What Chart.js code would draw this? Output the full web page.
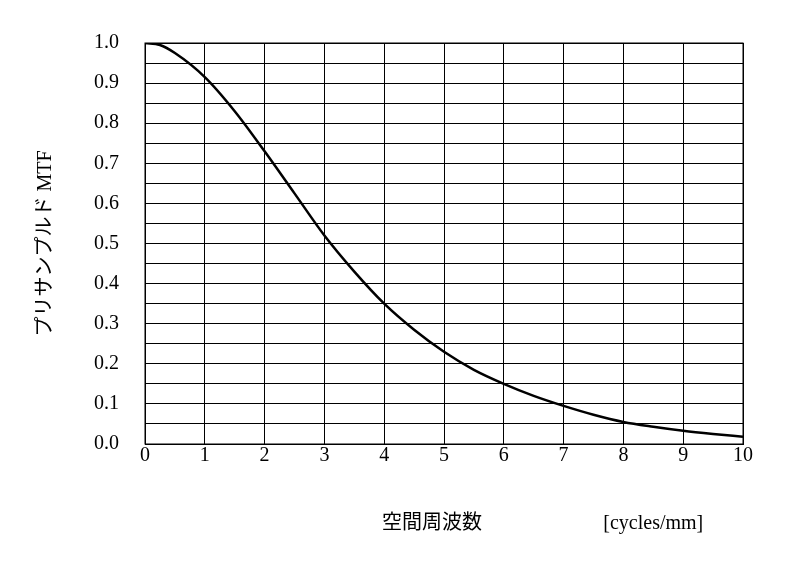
<!DOCTYPE html>
<html><head><meta charset="utf-8">
<script src="https://cdn.jsdelivr.net/npm/chart.js@4"></script>
<style>html,body{margin:0;padding:0;background:#fff}#c{width:806px;height:578px}</style>
</head><body><div id="c"><canvas id="cv" width="806" height="578"></canvas></div>
<script>
const freq = [0,0.25,0.5,1,1.5,2,2.5,3,3.5,4,4.5,5,5.5,6,6.5,7,7.5,8,8.5,9,9.5,10];
const mtf = [1.0,0.995,0.975,0.915,0.83,0.73,0.625,0.52,0.43,0.35,0.285,0.23,0.185,0.15,0.12,0.095,0.073,0.055,0.043,0.033,0.025,0.018];
const xTitle = '空間周波数';
const xUnit = '[cycles/mm]';
const yTitle = 'プリサンプルド MTF';
const serif = '"Liberation Serif","Noto Sans CJK JP",serif';
const titlePlugin = {
  id:'xt',
  afterDraw(ch){
    const c=ch.ctx, x=ch.scales.x;
    c.save(); c.fillStyle='#000'; c.textBaseline='middle'; c.textAlign='center';
    c.font='20px '+serif;
    c.fillText(xTitle, x.getPixelForValue(4.8), 524);
    c.fillText(xUnit, x.getPixelForValue(8.5), 524);
    c.restore();
  }
};
new Chart(document.getElementById('cv'),{
  type:'line',
  data:{datasets:[{data:freq.map((f,i)=>({x:f,y:mtf[i]})),borderColor:'#000',borderWidth:2.5,pointRadius:0,cubicInterpolationMode:'monotone',fill:false}]},
  options:{
    responsive:false,animation:false,
    layout:{padding:{left:0,right:63,top:43,bottom:0}},
    plugins:{legend:{display:false},tooltip:{enabled:false}},
    scales:{
      x:{type:'linear',min:0,max:10,
        ticks:{stepSize:1,color:'#000',font:{family:serif,size:20},padding:0},
        grid:{color:'#000',lineWidth:1,drawTicks:false},
        border:{color:'#000',width:1},
        afterFit(s){s.height=134;}},
      y:{type:'linear',min:0,max:1,
        ticks:{stepSize:0.05,autoSkip:false,color:'#000',font:{family:serif,size:20},padding:26,
          callback:(v)=>{const r=Math.round(v*100);return r%10===0?(r/100).toFixed(1):'';}},
        grid:{color:'#000',lineWidth:1,drawTicks:false},
        border:{color:'#000',width:1},
        title:{display:true,text:yTitle,color:'#000',font:{family:serif,size:20},padding:{top:34,bottom:0}},
        afterFit(s){s.width=145;}}
    }
  },
  plugins:[titlePlugin,{id:'rb',afterDraw(ch){const a=ch.chartArea,c=ch.ctx;c.save();c.strokeStyle='#000';c.lineWidth=1;c.strokeRect(a.left,a.top,a.right-a.left,a.bottom-a.top);c.restore();}}]
});
</script></body></html>
